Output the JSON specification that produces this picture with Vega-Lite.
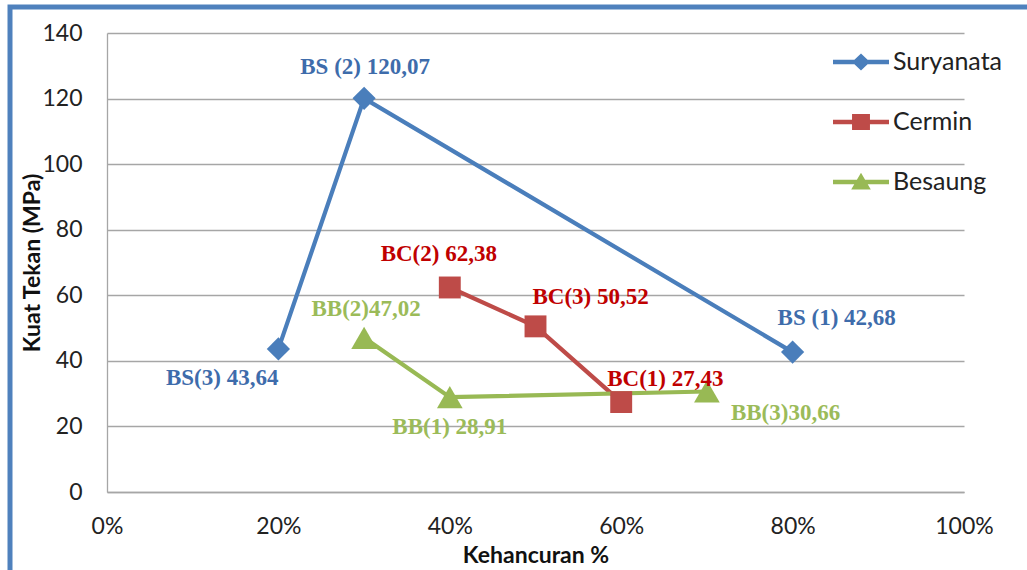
{
  "$schema": "https://vega.github.io/schema/vega-lite/v6.json",
  "width": 1017,
  "height": 563,
  "autosize": "none",
  "padding": {"left": 10, "top": 7, "right": 0, "bottom": 0},
  "background": "white",
  "config": {
    "view": {"stroke": "#4F81BD", "strokeWidth": 5, "strokeDash": [1017, 1580, 563]},
    "font": "Lato",
    "axis": {
      "ticks": false,
      "domainColor": "#A6A6A6",
      "domainWidth": 1.3,
      "gridColor": "#A6A6A6",
      "gridWidth": 1.3,
      "labelFont": "Lato",
      "labelFontSize": 23,
      "labelColor": "#222222",
      "titleFont": "Lato",
      "titleFontWeight": "bold",
      "titleFontSize": 23,
      "titleColor": "#111111"
    },
    "text": {"font": "Liberation Serif", "fontWeight": "bold", "fontSize": 23}
  },
  "data": {
    "values": [
      {"seri": "Suryanata", "kode": "BS3", "kehancuran": 0.2, "kuat_tekan": 43.64, "label": "BS(3) 43,64"},
      {"seri": "Suryanata", "kode": "BS2", "kehancuran": 0.3, "kuat_tekan": 120.07, "label": "BS (2) 120,07"},
      {"seri": "Suryanata", "kode": "BS1", "kehancuran": 0.8, "kuat_tekan": 42.68, "label": "BS (1) 42,68"},
      {"seri": "Cermin", "kode": "BC2", "kehancuran": 0.4, "kuat_tekan": 62.38, "label": "BC(2) 62,38"},
      {"seri": "Cermin", "kode": "BC3", "kehancuran": 0.5, "kuat_tekan": 50.52, "label": "BC(3) 50,52"},
      {"seri": "Cermin", "kode": "BC1", "kehancuran": 0.6, "kuat_tekan": 27.43, "label": "BC(1) 27,43"},
      {"seri": "Besaung", "kode": "BB2", "kehancuran": 0.3, "kuat_tekan": 47.02, "label": "BB(2)47,02"},
      {"seri": "Besaung", "kode": "BB1", "kehancuran": 0.4, "kuat_tekan": 28.91, "label": "BB(1) 28,91"},
      {"seri": "Besaung", "kode": "BB3", "kehancuran": 0.7, "kuat_tekan": 30.66, "label": "BB(3)30,66"}
    ]
  },
  "encoding": {
    "x": {
      "field": "kehancuran",
      "type": "quantitative",
      "scale": {"domain": [0, 1], "range": [97, 954]},
      "axis": {
        "orient": "bottom",
        "offset": -78,
        "grid": false,
        "values": [0, 0.2, 0.4, 0.6, 0.8, 1],
        "format": ".0%",
        "labelFlush": false,
        "labelPadding": 23,
        "title": "Kehancuran %",
        "titleY": 63,
        "titleBaseline": "middle"
      }
    },
    "y": {
      "field": "kuat_tekan",
      "type": "quantitative",
      "scale": {"domain": [0, 140], "range": [485, 26]},
      "axis": {
        "orient": "left",
        "offset": -97,
        "grid": true,
        "values": [0, 20, 40, 60, 80, 100, 120, 140],
        "labelPadding": 25,
        "title": "Kuat Tekan (MPa)",
        "titleX": -75,
        "titleAngle": -90,
        "titleBaseline": "middle"
      }
    },
    "color": {
      "field": "seri",
      "type": "nominal",
      "scale": {
        "domain": ["Suryanata", "Cermin", "Besaung"],
        "range": ["#4A7EBB", "#BE4B48", "#98B954"]
      },
      "legend": {
        "orient": "none",
        "legendX": 823,
        "legendY": 27,
        "title": null,
        "padding": 0,
        "symbolSize": 3136,
        "labelFont": "Lato",
        "labelFontSize": 25,
        "labelColor": "#222222",
        "labelOffset": 4,
        "rowPadding": 19,
        "encode": {
          "symbols": {
            "update": {
              "shape": {"signal": "datum.value === 'Suryanata' ? 'M-1,-0.08H1V0.08H-1Z M0,-0.3L0.32,0L0,0.3L-0.32,0Z' : datum.value === 'Cermin' ? 'M-1,-0.08H1V0.08H-1Z M-0.32,-0.29H0.32V0.29H-0.32Z' : 'M-1,-0.08H1V0.08H-1Z M0,-0.33L0.35,0.27H-0.35Z'"},
              "size": {"value": 3136},
              "fill": {"scale": "color", "field": "value"},
              "strokeWidth": {"value": 0},
              "opacity": {"value": 1},
              "fillOpacity": {"value": 1}
            }
          }
        }
      }
    }
  },
  "layer": [
    {"mark": {"type": "line", "strokeWidth": 4.2}},
    {
      "transform": [{"filter": "datum.seri === 'Suryanata'"}],
      "mark": {"type": "point", "filled": true, "opacity": 1, "shape": "diamond", "size": 540}
    },
    {
      "transform": [{"filter": "datum.seri === 'Cermin'"}],
      "mark": {"type": "point", "filled": true, "opacity": 1, "shape": "square", "size": 480}
    },
    {
      "transform": [{"filter": "datum.seri === 'Besaung'"}],
      "mark": {"type": "point", "filled": true, "opacity": 1, "shape": "triangle-up", "size": 660}
    },
    {
      "transform": [{"filter": "datum.kode === 'BS3'"}],
      "mark": {"type": "text", "align": "right", "dx": 0, "dy": 29},
      "encoding": {"text": {"field": "label"}, "color": {"value": "#3E6CAB"}}
    },
    {
      "transform": [{"filter": "datum.kode === 'BS2'"}],
      "mark": {"type": "text", "align": "center", "dx": 1, "dy": -31},
      "encoding": {"text": {"field": "label"}, "color": {"value": "#3E6CAB"}}
    },
    {
      "transform": [{"filter": "datum.kode === 'BS1'"}],
      "mark": {"type": "text", "align": "left", "dx": -15, "dy": -34},
      "encoding": {"text": {"field": "label"}, "color": {"value": "#3E6CAB"}}
    },
    {
      "transform": [{"filter": "datum.kode === 'BC2'"}],
      "mark": {"type": "text", "align": "center", "dx": -11, "dy": -33},
      "encoding": {"text": {"field": "label"}, "color": {"value": "#C00000"}}
    },
    {
      "transform": [{"filter": "datum.kode === 'BC3'"}],
      "mark": {"type": "text", "align": "left", "dx": -3, "dy": -29},
      "encoding": {"text": {"field": "label"}, "color": {"value": "#C00000"}}
    },
    {
      "transform": [{"filter": "datum.kode === 'BC1'"}],
      "mark": {"type": "text", "align": "left", "dx": -14, "dy": -23},
      "encoding": {"text": {"field": "label"}, "color": {"value": "#C00000"}}
    },
    {
      "transform": [{"filter": "datum.kode === 'BB2'"}],
      "mark": {"type": "text", "align": "center", "dx": 2, "dy": -29},
      "encoding": {"text": {"field": "label"}, "color": {"value": "#9BBB59"}}
    },
    {
      "transform": [{"filter": "datum.kode === 'BB1'"}],
      "mark": {"type": "text", "align": "center", "dx": 0, "dy": 30},
      "encoding": {"text": {"field": "label"}, "color": {"value": "#9BBB59"}}
    },
    {
      "transform": [{"filter": "datum.kode === 'BB3'"}],
      "mark": {"type": "text", "align": "left", "dx": 24, "dy": 22},
      "encoding": {"text": {"field": "label"}, "color": {"value": "#9BBB59"}}
    }
  ]
}
